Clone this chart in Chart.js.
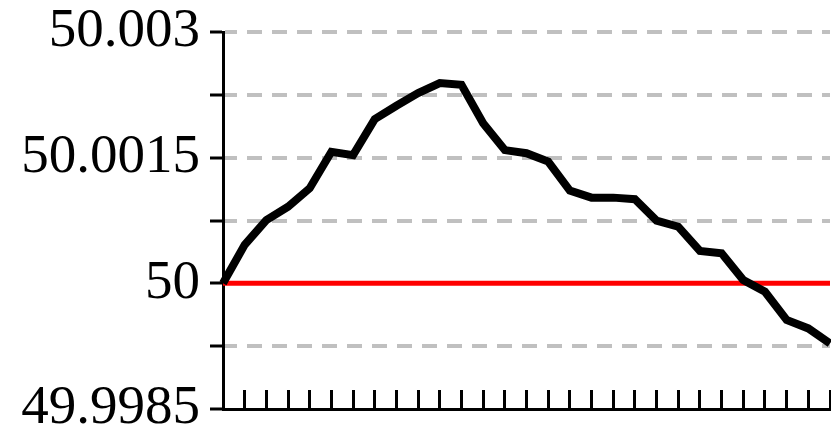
<!DOCTYPE html>
<html>
<head>
<meta charset="utf-8">
<script src="https://cdn.jsdelivr.net/npm/chart.js@4/dist/chart.umd.min.js"></script>
<style>
  html, body { margin: 0; padding: 0; background: #ffffff; }
  #c { display: block; }
</style>
</head>
<body>
<canvas id="c" width="831" height="442"></canvas>
<script>
// ---- data ----
const categories = ['0','1','2','3','4','5','6','7','8','9','10','11','12','13','14',
  '15','16','17','18','19','20','21','22','23','24','25','26','27','28'];
const frequency = [
  50.00000, 50.00046, 50.000755, 50.000915, 50.001135, 50.00157, 50.00153, 50.00196,
  50.00212, 50.00227, 50.00239, 50.00237, 50.00191, 50.00159, 50.001553, 50.001453,
  50.001106, 50.001023, 50.001023, 50.001004, 50.000748, 50.000676, 50.000386, 50.000358,
  50.000039, 49.99990, 49.999562, 49.999462, 49.999283
];
const referenceValue = 50;
const yTickValues = [49.9985, 49.99925, 50, 50.00075, 50.0015, 50.00225, 50.003];
const yTickLabels = ['49.9985', '', '50', '', '50.0015', '', '50.003'];

const referenceLine = categories.map(() => referenceValue);

new Chart(document.getElementById('c'), {
  type: 'line',
  data: {
    labels: categories,
    datasets: [
      {
        data: frequency,
        borderColor: '#000000',
        borderWidth: 8,
        borderJoinStyle: 'miter',
        borderCapStyle: 'butt',
        pointRadius: 0,
        tension: 0,
        fill: false
      },
      {
        data: referenceLine,
        borderColor: '#ff0000',
        borderWidth: 5,
        pointRadius: 0,
        tension: 0,
        fill: false
      }
    ]
  },
  options: {
    responsive: false,
    animation: false,
    events: [],
    layout: { padding: { left: 21, right: 1, top: 32, bottom: 33 } },
    plugins: { legend: { display: false }, tooltip: { enabled: false } },
    scales: {
      x: {
        type: 'category',
        offset: false,
        grid: {
          display: true,
          drawOnChartArea: false,
          drawTicks: true,
          tickLength: -19,
          tickWidth: 3,
          tickColor: '#000000',
          color: '#000000',
          offset: false
        },
        border: { display: true, color: '#000000', width: 3 },
        ticks: { display: false },
        afterFit: (scale) => { scale.height = 0; }
      },
      y: {
        type: 'linear',
        min: yTickValues[0],
        max: yTickValues[yTickValues.length - 1],
        afterBuildTicks: (scale) => {
          scale.ticks = yTickValues.map(v => ({ value: v }));
        },
        afterFit: (scale) => {
          scale.width = 202;
          scale.paddingTop = 0;
          scale.paddingBottom = 0;
        },
        grid: {
          display: true,
          drawOnChartArea: true,
          drawTicks: true,
          tickLength: 13,
          tickWidth: 3,
          tickColor: '#000000',
          tickBorderDash: [],
          lineWidth: 4,
          color: (ctx) => (ctx.tick && (ctx.tick.value === referenceValue || ctx.index === 0)) ? 'rgba(0,0,0,0)' : '#c0c0c0'
        },
        border: { display: true, color: '#000000', width: 3, dash: [15, 10], dashOffset: 3 },
        ticks: {
          padding: 10,
          color: '#000000',
          font: { family: '"Liberation Serif", "Times New Roman", serif', size: 55, lineHeight: 1 },
          callback: (value, index) => yTickLabels[index]
        }
      }
    }
  }
});
</script>
</body>
</html>
